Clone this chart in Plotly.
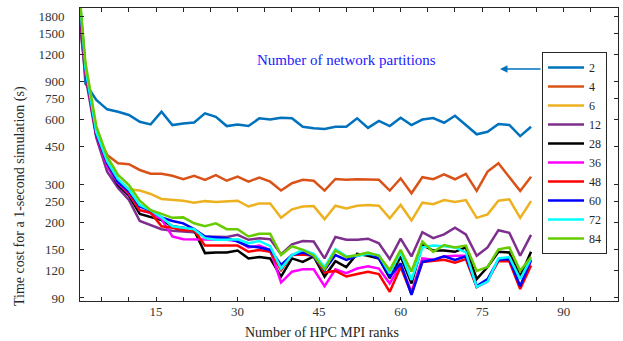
import plotly.graph_objects as go

ranks = [1, 2, 4, 6, 8, 10, 12, 14, 16, 18, 20, 22, 24, 26, 28, 30, 32, 34, 36, 38, 40, 42,
         44, 46, 48, 50, 52, 54, 56, 58, 60, 62, 64, 66, 68, 70, 72, 74, 76, 78, 80, 82, 84]

p2 = [2050, 880, 739, 669, 652, 630, 586, 570, 652, 566, 576, 582, 641, 618, 560, 570, 560, 608, 600, 612, 608, 556,
      547, 543, 556, 556, 608, 549, 591, 560, 612, 566, 600, 610, 580, 625, 566, 513, 527, 572, 567, 503, 556]
p4 = [1700, 1000, 520, 412, 377, 373, 351, 337, 337, 330, 318, 330, 316, 332, 313, 327, 310, 324, 310, 282, 305, 316,
      313, 282, 319, 316, 318, 318, 316, 282, 321, 274, 325, 318, 335, 318, 337, 281, 345, 377, 327, 281, 327]
p6 = [1950, 1050, 530, 395, 316, 286, 282, 272, 258, 255, 253, 248, 252, 250, 251, 253, 238, 246, 246, 211, 231, 238,
      239, 208, 240, 233, 240, 242, 240, 210, 242, 205, 248, 244, 255, 250, 255, 211, 219, 253, 257, 211, 252]
p12 = [1650, 950, 495, 345, 290, 255, 204, 195, 187, 184, 182, 181, 173, 172, 172, 176, 167, 170, 168, 143, 159, 165,
       164, 137, 172, 167, 167, 169, 161, 136, 169, 140, 181, 170, 177, 190, 177, 141, 154, 185, 180, 141, 176]
p28 = [2000, 1020, 510, 370, 299, 267, 220, 212, 206, 193, 190, 185, 145, 146, 146, 149, 137, 139, 137, 113, 137, 132,
       140, 113, 133, 125, 144, 141, 137, 111, 140, 105, 158, 149, 149, 147, 154, 110, 125, 147, 146, 113, 147]
p36 = [2000, 1000, 505, 365, 305, 272, 229, 222, 208, 173, 168, 168, 168, 167, 167, 165, 154, 157, 150, 106, 119, 122,
       122, 102, 122, 117, 123, 126, 123, 105, 128, 96, 137, 135, 140, 141, 141, 101, 107, 135, 134, 101, 134]
p48 = [2000, 1010, 510, 375, 310, 275, 229, 223, 193, 190, 185, 185, 157, 157, 156, 157, 147, 150, 147, 121, 142, 143,
       141, 118, 120, 113, 116, 119, 116, 96, 125, 94, 132, 133, 135, 131, 136, 101, 109, 133, 133, 99, 127]
p60 = [2050, 1030, 515, 378, 308, 280, 238, 228, 212, 204, 199, 187, 173, 172, 170, 164, 156, 154, 150, 128, 142, 146,
       140, 121, 142, 135, 141, 145, 137, 113, 130, 93, 132, 135, 140, 135, 140, 102, 110, 135, 136, 102, 135]
p72 = [2100, 1040, 525, 385, 318, 285, 242, 229, 212, 193, 190, 187, 170, 167, 167, 168, 161, 165, 156, 123, 142, 150,
       144, 125, 151, 140, 141, 144, 142, 117, 146, 109, 154, 157, 156, 154, 146, 101, 107, 137, 139, 110, 137]
p84 = [2150, 1100, 560, 405, 333, 299, 253, 229, 220, 211, 212, 199, 193, 199, 187, 187, 173, 178, 178, 142, 156, 150,
       141, 122, 149, 139, 142, 146, 141, 121, 150, 119, 164, 147, 158, 154, 157, 120, 125, 151, 154, 120, 139]

series_names = ["2", "4", "6", "12", "28", "36", "48", "60", "72", "84"]
series_vals = [p2, p4, p6, p12, p28, p36, p48, p60, p72, p84]
colors = ["#0072BD", "#D95319", "#EDB120", "#7E2F8E", "#000000",
          "#FF00FF", "#FF0000", "#0000FF", "#00FFFF", "#66CC00"]

x_tickvals = [5, 10, 15, 20, 25, 30, 35, 40, 45, 50, 55, 60, 65, 70, 75, 80, 85, 90, 95]
x_ticktext = ["", "", "15", "", "", "30", "", "", "45", "", "", "60", "", "", "75", "", "", "90", ""]
y_tickvals = [90, 120, 150, 200, 250, 300, 450, 600, 750, 900, 1200, 1500, 1800]

FONT = "Liberation Serif, DejaVu Serif, Times New Roman, serif"
AX = "#262626"

fig = go.Figure()
for name, vals, c in zip(series_names, series_vals, colors):
    fig.add_trace(go.Scatter(x=ranks, y=vals, mode="lines", name=name,
                             line=dict(color=c, width=2.5)))

# plot area: x 80..618 px, y 8..301 px
L, R, T, B = 80, 5, 8, 40
W, H = 623, 341
pw, ph = W - L - R, H - T - B

def px(xp):
    return (xp - L) / pw

def py(yp):
    return (H - B - yp) / ph

fig.update_layout(
    width=W, height=H,
    margin=dict(l=L, r=R, t=T, b=B),
    paper_bgcolor="white", plot_bgcolor="white",
    font=dict(family=FONT, size=12, color="#262626"),
    showlegend=True,
    legend=dict(x=px(542), y=py(52), xanchor="left", yanchor="top",
                bordercolor=AX, borderwidth=1, bgcolor="white",
                font=dict(family=FONT, size=12, color="#262626"),
                itemwidth=36, tracegroupgap=0),
    xaxis=dict(range=[1, 100], tickvals=x_tickvals, ticktext=x_ticktext,
               ticks="inside", ticklen=4, tickcolor=AX, showline=True, linecolor=AX,
               linewidth=1, mirror="ticks", showgrid=False, zeroline=False,
               ticklabelstandoff=-2,
               tickfont=dict(family=FONT, size=13, color="#333333")),
    yaxis=dict(type="log", range=[1.9401, 3.2935], tickvals=y_tickvals,
               ticktext=[str(v) for v in y_tickvals],
               ticks="inside", ticklen=4, tickcolor=AX, showline=True, linecolor=AX,
               linewidth=1, mirror="ticks", showgrid=False, zeroline=False,
               ticklabelstandoff=12,
               tickfont=dict(family=FONT, size=13, color="#333333")),
    annotations=[
        dict(xref="paper", yref="paper", x=px(346), y=py(60), xanchor="center", yanchor="middle",
             text="Number of network partitions",
             showarrow=False, font=dict(family=FONT, size=15, color="#2020FF")),
        dict(xref="paper", yref="paper", x=px(500), y=py(69), text="", showarrow=True,
             ax=42, ay=0, arrowhead=2, arrowsize=1, arrowwidth=1.5, arrowcolor="#0072BD"),
        dict(xref="paper", yref="paper", x=px(20), y=py(196), xanchor="center", yanchor="middle",
             text="Time cost for a 1-second simulation (s)",
             textangle=-90, showarrow=False, font=dict(family=FONT, size=14, color="#262626")),
        dict(xref="paper", yref="paper", x=px(322), y=py(332), xanchor="center", yanchor="middle",
             text="Number of HPC MPI ranks",
             showarrow=False, font=dict(family=FONT, size=14, color="#262626")),
    ],
)

fig.write_html("out.html", config={"displayModeBar": False},
               post_script="document.body.style.margin='0px';document.body.style.padding='0px';")
